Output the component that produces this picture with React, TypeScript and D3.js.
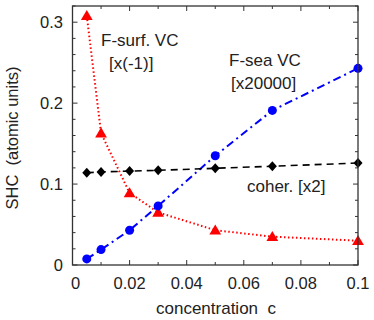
import * as d3 from 'd3';

// concentrations common to all three series
const conc = [0.005, 0.01, 0.02, 0.03, 0.05, 0.07, 0.1];
// F-surf. VC [x(-1)]
const surfVC = [0.308, 0.163, 0.089, 0.065, 0.043, 0.035, 0.03];
// F-sea VC [x20000]
const seaVC = [0.0075, 0.019, 0.043, 0.073, 0.135, 0.191, 0.243];
// coherent [x2]
const coher = [0.114, 0.115, 0.116, 0.117, 0.1195, 0.122, 0.126];

const xTicks = [0, 0.02, 0.04, 0.06, 0.08, 0.1];
const xTickLabels = ['0', '0.02', '0.04', '0.06', '0.08', '0.1'];
const yTicks = [0, 0.1, 0.2, 0.3];
const yTickLabels = ['0', '0.1', '0.2', '0.3'];

const W = 374;
const H = 320;
const FONT = '"Liberation Sans", Arial, Helvetica, sans-serif';

export default function App() {
  const x = d3.scaleLinear().domain([0, 0.1]).range([72.5, 358]);
  const y = d3.scaleLinear().domain([0, 0.32]).range([265, 6]);

  const pts = (vals: number[]) => conc.map((c, i) => [c, vals[i]] as [number, number]);
  const line = d3.line<[number, number]>().x(d => x(d[0])).y(d => y(d[1]));

  const [x0, x1] = x.range();
  const [y0, y1] = y.range();

  const xMinor = d3.range(0, 11).map(i => i / 100);
  const yMinor = d3.range(0, 17).map(i => i * 0.02);

  const tri = d3.symbol().type(d3.symbolTriangle).size(60)();
  const diamond = 'M0,-5L4.5,0L0,5L-4.5,0Z';

  return (
    <svg width={W} height={H} style={{ position: 'absolute', left: 0, top: 0, background: '#fff' }}
      fontFamily={FONT}>
      {/* ticks on all four sides, pointing inward */}
      <g stroke="#333" strokeWidth={1}>
        {xMinor.map((t, i) => {
          const len = i % 2 === 0 ? 5 : 3;
          return (
            <g key={'xm' + i}>
              <line x1={x(t)} x2={x(t)} y1={y0} y2={y0 - len} />
              <line x1={x(t)} x2={x(t)} y1={y1} y2={y1 + len} />
            </g>
          );
        })}
        {yMinor.map((t, i) => {
          const len = i % 5 === 0 ? 5 : 3;
          return (
            <g key={'ym' + i}>
              <line x1={x0} x2={x0 + len} y1={y(t)} y2={y(t)} />
              <line x1={x1} x2={x1 - len} y1={y(t)} y2={y(t)} />
            </g>
          );
        })}
      </g>

      {/* series lines */}
      <path d={line(pts(surfVC)) || ''} fill="none" stroke="#ff0000" strokeWidth={2}
        strokeDasharray="1.5,2.5" />
      <path d={line(pts(seaVC)) || ''} fill="none" stroke="#0000ff" strokeWidth={2}
        strokeDasharray="8,4,2,4" />
      <path d={line(pts(coher)) || ''} fill="none" stroke="#000" strokeWidth={1.6}
        strokeDasharray="7,5" />

      {/* markers */}
      {pts(surfVC).map((d, i) => (
        <path key={'t' + i} d={tri || ''} transform={`translate(${x(d[0])},${y(d[1]) + 1})`} fill="#ff0000" />
      ))}
      {pts(seaVC).map((d, i) => (
        <circle key={'c' + i} cx={x(d[0])} cy={y(d[1])} r={4.5} fill="#0000ff" />
      ))}
      {pts(coher).map((d, i) => (
        <path key={'d' + i} d={diamond} transform={`translate(${x(d[0])},${y(d[1])})`} fill="#000" />
      ))}

      {/* frame */}
      <rect x={x0} y={y1} width={x1 - x0} height={y0 - y1} fill="none" stroke="#333" strokeWidth={1.3} />

      {/* tick labels */}
      <g fontSize={16.5} fill="#222">
        {xTicks.map((t, i) => (
          <text key={'xl' + i} x={x(t) + (i === 0 ? 3 : 0)} y={289} textAnchor="middle">{xTickLabels[i]}</text>
        ))}
        {yTicks.map((t, i) => (
          <text key={'yl' + i} x={63} y={y(t) + 5.5} textAnchor="end">{yTickLabels[i]}</text>
        ))}
      </g>

      {/* axis titles */}
      <text x={216} y={314} fontSize={17} textAnchor="middle" fill="#222" xmlSpace="preserve">concentration  c</text>
      <text transform="translate(18,138) rotate(-90)" fontSize={16.5} textAnchor="middle" fill="#222"
        xmlSpace="preserve">SHC  (atomic units)</text>

      {/* annotations */}
      <g fontSize={17} fill="#222">
        <text x={101} y={46}>F-surf. VC</text>
        <text x={109} y={69}>[x(-1)]</text>
        <text x={229} y={66}>F-sea VC</text>
        <text x={231} y={89}>[x20000]</text>
        <text x={247} y={192}>coher. [x2]</text>
      </g>
    </svg>
  );
}
